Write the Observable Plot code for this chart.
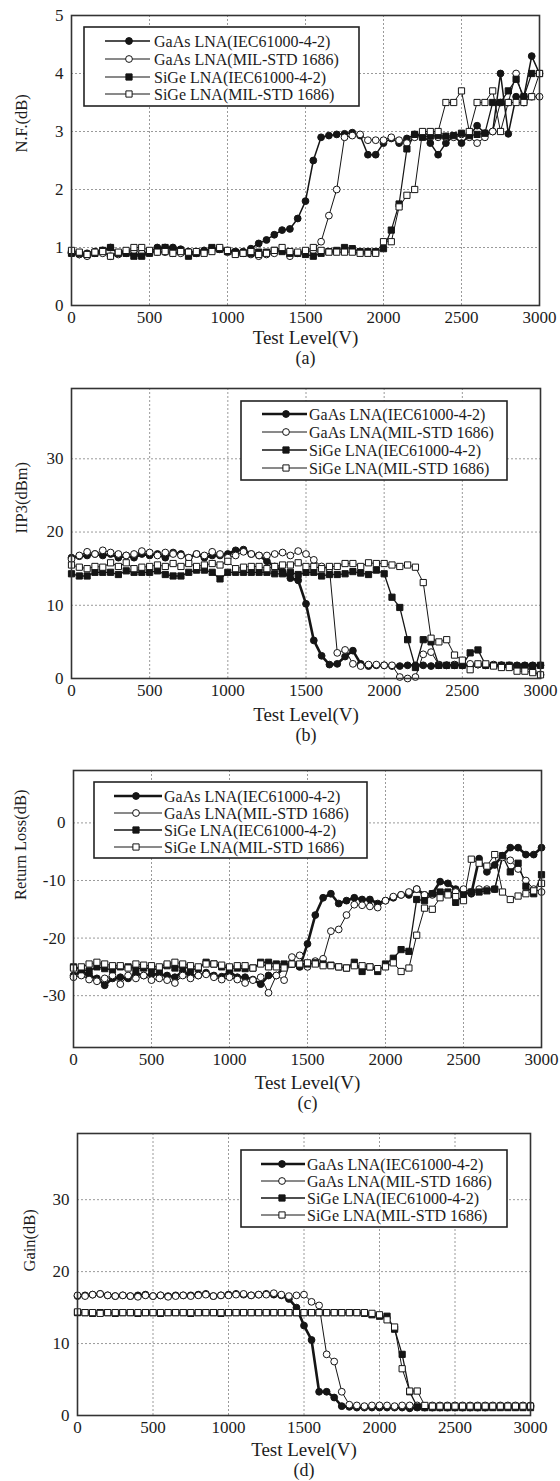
<!DOCTYPE html>
<html><head><meta charset="utf-8">
<script src="https://cdn.jsdelivr.net/npm/d3@7"></script>
<script src="https://cdn.jsdelivr.net/npm/@observablehq/plot@0.6"></script>
<style>
body{margin:0;background:#fff;}
#wrap{width:560px;}
svg{display:block;}
</style></head><body><div id="wrap"></div>
<script>
const testLevel = [0,50,100,150,200,250,300,350,400,450,500,550,600,650,700,750,800,850,900,950,1000,1050,1100,1150,1200,1250,1300,1350,1400,1450,1500,1550,1600,1650,1700,1750,1800,1850,1900,1950,2000,2050,2100,2150,2200,2250,2300,2350,2400,2450,2500,2550,2600,2650,2700,2750,2800,2850,2900,2950,3000];
const seriesNames = ["GaAs LNA(IEC61000-4-2)", "GaAs LNA(MIL-STD 1686)", "SiGe LNA(IEC61000-4-2)", "SiGe LNA(MIL-STD 1686)"];
const xTicks = [0,500,1000,1500,2000,2500,3000];
const xGrid = [500,1000,1500,2000,2500];

// (a) Noise figure
const nfGaAsIEC = [0.92,0.88,0.90,0.93,0.95,1.00,0.90,0.92,0.88,0.87, 0.92,1.00,1.00,1.00,0.97,0.93,0.92,0.95,0.98,0.97, 0.95,0.93,0.93,0.98,1.07,1.13,1.22,1.30,1.32,1.50, 1.80,2.50,2.90,2.93,2.95,2.96,2.98,2.93,2.60,2.60, 2.80,2.88,2.80,2.88,2.95,2.94,2.80,2.60,2.80,2.92, 2.80,2.93,3.10,2.97,3.00,4.00,2.96,3.60,3.60,4.30,4.00];
const nfGaAsMIL = [0.90,0.88,0.85,0.90,0.90,0.85,0.88,0.90,0.95,0.90, 0.93,0.92,0.92,0.90,0.90,0.88,0.90,0.92,0.95,0.97, 0.92,0.90,0.90,0.88,0.85,0.88,0.90,0.95,0.85,0.90, 0.92,0.95,1.10,1.55,2.00,2.90,2.93,2.95,2.85,2.85, 2.85,2.90,2.85,2.80,2.90,2.95,2.95,2.90,2.90,2.90, 2.95,2.90,2.80,2.90,3.00,3.50,3.50,4.00,3.50,3.60,3.60];
const nfSiGeIEC = [0.90,0.90,0.88,0.90,0.95,1.00,0.90,0.90,0.85,0.85, 0.90,0.95,1.00,0.97,0.95,0.85,0.90,0.92,1.00,0.97, 0.93,0.92,0.90,0.90,0.92,0.92,0.95,0.93,0.90,0.90, 0.88,0.85,0.90,0.93,0.95,1.00,0.98,0.93,0.93,0.93, 0.98,1.30,1.75,2.70,2.95,2.90,2.92,2.93,2.92,2.93, 2.97,2.93,2.95,2.97,3.50,3.50,3.70,3.90,3.60,4.00,4.00];
const nfSiGeMIL = [0.95,0.92,0.88,0.92,0.93,0.85,0.92,0.95,1.00,1.00, 0.95,0.92,0.93,0.90,0.93,0.92,0.93,0.90,0.93,1.00, 0.95,0.88,0.90,0.93,0.88,0.90,0.95,1.00,0.93,0.92, 0.95,1.00,0.95,0.92,0.92,0.92,0.92,0.90,0.90,0.90, 1.10,1.10,1.70,1.90,2.00,3.00,3.00,3.00,3.50,3.50, 3.70,3.00,3.50,3.50,3.70,3.00,3.50,3.50,3.50,3.60,4.00];
const nfTicks = [0,1,2,3,4,5];

// (b) IIP3
const ipGaAsIEC = [16.5,16.7,16.8,17.0,16.8,17.0,16.5,16.8,16.5,17.0, 16.8,17.0,16.5,17.2,17.0,16.5,17.0,16.5,16.8,16.8, 17.0,17.5,17.6,17.0,16.8,16.0,15.3,14.6,13.7,13.4, 10.2,5.2,3.1,1.9,2.0,3.0,3.8,2.0,1.7,1.8, 1.8,1.7,1.7,1.8,1.8,1.8,1.7,1.8,1.8,1.8, 1.8,1.8,1.9,1.8,1.8,1.8,1.8,1.8,1.8,1.8,1.8];
const ipGaAsMIL = [16.3,16.8,17.3,17.0,17.5,17.2,17.0,16.8,17.0,17.4, 17.2,16.8,17.2,17.0,16.8,16.5,17.0,16.8,17.3,17.0, 16.5,16.8,17.3,17.0,16.8,16.8,17.0,17.2,16.8,17.4, 17.0,16.2,15.3,15.0,3.5,3.9,2.0,1.7,1.9,1.9, 1.8,1.8,0.2,0.0,0.2,3.3,3.6,1.9,1.8,1.9, 2.0,2.0,1.9,1.8,1.9,1.8,1.7,1.5,1.5,1.0,0.5];
const ipSiGeIEC = [14.3,14.0,14.0,14.5,14.5,14.5,14.2,14.7,14.5,14.5, 14.5,14.7,14.2,14.0,14.0,14.5,14.8,14.8,14.5,13.6, 14.5,14.5,14.5,14.5,14.5,14.5,14.3,14.3,14.5,14.2, 14.5,14.5,14.0,14.2,14.2,14.3,14.6,14.4,14.2,14.8, 14.3,11.1,9.7,5.3,1.5,5.3,5.0,1.8,1.8,1.8, 1.8,3.5,3.9,1.8,1.8,1.8,1.8,1.7,1.7,1.7,1.8];
const ipSiGeMIL = [15.5,15.2,15.0,15.3,15.2,15.8,15.3,15.8,15.0,15.2, 15.3,15.5,15.3,15.7,15.3,15.7,15.3,15.5,15.7,15.5, 16.0,15.0,15.2,15.3,15.3,15.0,15.3,15.5,15.5,15.8, 15.3,15.3,15.0,15.3,15.3,15.7,15.7,15.3,15.8,15.7, 15.7,15.5,15.3,15.5,15.2,13.1,5.5,5.0,5.3,3.2, 2.5,1.2,2.0,2.0,1.7,1.5,1.5,1.0,1.0,0.8,0.5];
const ipTicks = [0,10,20,30];

// (c) Return loss
const rlGaAsIEC = [-26.5,-25.8,-26.5,-27.0,-28.2,-27.0,-26.8,-27.0,-26.2,-26.5, -26.3,-26.3,-26.5,-26.8,-25.8,-26.5,-26.5,-26.0,-26.5,-26.7, -25.8,-26.8,-26.8,-27.2,-28.0,-26.5,-26.5,-25.0,-24.5,-25.0, -21.0,-16.0,-13.0,-12.3,-14.0,-13.5,-13.0,-13.3,-13.3,-14.0, -13.5,-13.0,-12.5,-12.5,-11.5,-12.5,-12.3,-10.2,-10.5,-11.5, -12.0,-12.3,-6.2,-8.5,-7.3,-5.7,-4.3,-4.3,-5.5,-5.5,-4.3];
const rlGaAsMIL = [-26.8,-26.5,-27.2,-27.5,-27.0,-26.5,-28.0,-26.5,-27.0,-26.5, -27.3,-27.0,-27.3,-27.8,-26.5,-27.0,-26.5,-26.3,-26.8,-27.2, -26.8,-27.2,-27.8,-27.3,-26.8,-29.5,-26.5,-27.3,-23.3,-23.0, -25.0,-24.0,-23.6,-18.8,-18.5,-16.0,-14.2,-14.3,-14.5,-14.7, -13.5,-12.8,-12.5,-12.0,-11.5,-12.5,-12.5,-12.5,-12.2,-12.0, -11.5,-12.0,-11.5,-11.5,-11.5,-6.0,-6.5,-8.0,-10.0,-11.5,-12.0];
const rlSiGeIEC = [-25.0,-25.5,-25.7,-25.0,-25.3,-25.5,-25.0,-25.0,-25.3,-25.2, -25.3,-25.5,-24.8,-25.2,-24.8,-25.5,-25.3,-24.2,-24.5,-25.0, -25.2,-25.2,-25.3,-25.2,-24.2,-24.2,-24.5,-24.5,-24.5,-24.8, -24.5,-24.3,-24.5,-24.7,-25.0,-25.2,-24.2,-25.8,-25.0,-25.8, -24.5,-23.5,-22.0,-22.3,-13.3,-13.5,-12.3,-12.0,-12.0,-13.8, -12.5,-12.0,-12.0,-11.8,-11.5,-5.7,-8.5,-7.0,-11.0,-12.3,-9.0];
const rlSiGeMIL = [-25.2,-25.0,-24.5,-24.2,-24.5,-24.8,-24.8,-25.2,-24.5,-24.7, -24.8,-25.0,-24.5,-24.2,-24.5,-24.8,-25.0,-24.5,-24.5,-24.7, -25.0,-24.8,-24.8,-25.2,-24.5,-25.0,-25.0,-25.2,-24.5,-24.5, -24.3,-24.5,-24.8,-24.8,-25.0,-25.2,-24.8,-24.8,-25.0,-25.3, -25.0,-24.3,-25.8,-25.2,-19.5,-14.8,-15.0,-13.0,-12.5,-12.8, -13.5,-6.3,-7.0,-7.5,-5.5,-12.0,-13.3,-12.7,-12.3,-11.8,-10.5];
const rlTicks = [-30,-20,-10,0];

// (d) Gain
const gGaAsIEC = [16.6,16.7,16.8,16.9,16.7,16.6,16.7,16.6,16.7,16.8, 16.6,16.7,16.6,16.7,16.7,16.7,16.8,16.9,16.6,16.7, 16.8,16.9,16.8,16.7,16.8,16.9,16.8,16.7,16.2,15.0, 12.5,10.5,3.3,3.3,2.5,1.3,1.2,1.1,1.1,1.1, 1.1,1.1,1.1,1.1,1.0,1.1,1.1,1.1,1.1,1.1, 1.1,1.1,1.1,1.1,1.1,1.2,1.2,1.2,1.2,1.2,1.2];
const gGaAsMIL = [16.7,16.6,16.8,16.9,16.7,16.6,16.7,16.6,16.5,16.7, 16.6,16.7,16.5,16.6,16.7,16.6,16.7,16.8,16.6,16.7, 16.7,16.8,16.9,16.7,16.8,16.8,17.0,16.8,16.6,16.7, 16.8,15.8,15.3,8.5,7.5,3.3,1.5,1.4,1.3,1.4, 1.4,1.4,1.3,1.4,1.4,1.4,1.3,1.4,1.4,1.4, 1.4,1.4,1.4,1.4,1.4,1.4,1.4,1.4,1.4,1.4,1.4];
const gSiGeIEC = [14.3,14.3,14.2,14.3,14.3,14.2,14.3,14.3,14.2,14.3, 14.3,14.2,14.3,14.3,14.3,14.2,14.3,14.3,14.3,14.2, 14.3,14.3,14.3,14.3,14.3,14.3,14.3,14.3,14.3,14.3, 14.3,14.3,14.3,14.3,14.3,14.3,14.3,14.3,14.2,14.0, 13.8,13.8,12.0,8.5,3.3,1.2,1.1,1.1,1.1,1.1, 1.1,1.1,1.1,1.1,1.1,1.1,1.1,1.1,1.1,1.1,1.1];
const gSiGeMIL = [14.4,14.3,14.3,14.2,14.3,14.3,14.3,14.3,14.3,14.3, 14.3,14.3,14.3,14.3,14.3,14.3,14.3,14.3,14.3,14.3, 14.3,14.3,14.3,14.3,14.3,14.3,14.3,14.3,14.3,14.3, 14.3,14.3,14.3,14.3,14.3,14.3,14.3,14.3,14.3,14.2, 14.0,13.3,12.3,6.5,3.4,3.4,1.4,1.3,1.3,1.3, 1.3,1.3,1.3,1.3,1.3,1.3,1.3,1.3,1.3,1.3,1.3];
const gTicks = [0,10,20,30];

const INK = "#151515";
const styles = [
  {symbol: "circle", fill: INK, stroke: INK},
  {symbol: "circle", fill: "white", stroke: INK},
  {symbol: "square", fill: INK, stroke: INK},
  {symbol: "square", fill: "white", stroke: INK}
];
const FONT = "'Liberation Serif', 'Times New Roman', serif";

function makePanel(cfg) {
  const rows = [];
  cfg.series.forEach((vals, s) => vals.forEach((v, i) => rows.push({x: testLevel[i], y: v, s})));
  const marks = [
    Plot.gridX(xGrid, {stroke: "#9a9a9a", strokeOpacity: 1, strokeDasharray: "2,2"}),
    Plot.gridY(cfg.yGrid, {stroke: "#9a9a9a", strokeOpacity: 1, strokeDasharray: "2,2"}),
  ];
  cfg.series.forEach((vals, s) => {
    const d = rows.filter(r => r.s === s);
    marks.push(Plot.line(d, {x: "x", y: "y", stroke: INK, strokeWidth: cfg.lineWidths[s]}));
  });
  cfg.series.forEach((vals, s) => {
    const d = rows.filter(r => r.s === s);
    const st = styles[s];
    marks.push(Plot.dot(d, {x: "x", y: "y", symbol: st.symbol, fill: st.fill, stroke: st.stroke, strokeWidth: 1, r: st.symbol === "circle" ? 3.4 : 3.5}));
  });
  marks.push(
    Plot.frame({stroke: "#333", strokeWidth: 1.6}),
    Plot.axisX(xTicks, {tickSize: 0, tickPadding: 5, label: null, fontSize: 17, tickFormat: d => String(d)}),
    Plot.axisY(cfg.yTicks, {tickSize: 0, tickPadding: 8, label: null, fontSize: 17, tickFormat: d => String(d)}),
    Plot.text([cfg.yLabel], {text: d => d, frameAnchor: "left", dx: cfg.yLabelDx, dy: cfg.yLabelDy, rotate: -90, fontSize: 16.5}),
    Plot.text(["Test Level(V)"], {text: d => d, frameAnchor: "bottom", dy: cfg.xLabelDy, fontSize: 19}),
    Plot.text([cfg.caption], {text: d => d, frameAnchor: "bottom", dy: cfg.xLabelDy + 20, fontSize: 18})
  );
  const svg = Plot.plot({
    width: 560, height: cfg.height,
    marginTop: cfg.m[0], marginRight: cfg.m[1], marginBottom: cfg.m[2], marginLeft: cfg.m[3],
    x: {domain: [0, 3000], label: null},
    y: {domain: cfg.yDomain, label: null},
    style: {fontFamily: FONT, color: "#1c1c1c", background: "white", overflow: "visible"},
    marks
  });
  // legend box
  const L = cfg.legend;
  const g = d3.select(svg).append("g").attr("font-family", FONT).attr("font-size", 16).attr("text-anchor", "start");
  g.append("rect").attr("x", L.box[0]).attr("y", L.box[1]).attr("width", L.box[2] - L.box[0]).attr("height", L.box[3] - L.box[1])
    .attr("fill", "white").attr("stroke", "#222").attr("stroke-width", 1.6);
  seriesNames.forEach((name, s) => {
    const y = L.rows[s];
    const st = styles[s];
    g.append("line").attr("x1", L.sw[0]).attr("x2", L.sw[1]).attr("y1", y).attr("y2", y).attr("stroke", INK).attr("stroke-width", cfg.lineWidths[s]);
    const r = st.symbol === "circle" ? 3.4 : 3.5;
    const sym = d3.symbol(st.symbol === "circle" ? d3.symbolCircle : d3.symbolSquare, Math.PI * r * r);
    g.append("path").attr("d", sym()).attr("transform", `translate(${L.mk},${y})`).attr("fill", st.fill).attr("stroke", st.stroke);
    g.append("text").attr("x", L.tx).attr("y", y).attr("dy", "0.35em").attr("text-anchor", "start").attr("fill", "#1c1c1c").text(name);
  });
  const div = document.createElement("div");
  div.appendChild(svg);
  document.getElementById("wrap").appendChild(div);
}

makePanel({
  series: [nfGaAsIEC, nfGaAsMIL, nfSiGeIEC, nfSiGeMIL], height: 370, m: [15, 21, 65, 71],
  yDomain: [0, 5], yTicks: nfTicks, yGrid: [1, 2, 3, 4], yLabel: "N.F.(dB)", yLabelDx: -50, yLabelDy: -8, xLabelDy: 38, caption: "(a)",
  lineWidths: [1.5, 1, 1.2, 1],
  legend: {box: [84, 27, 359, 106], rows: [41, 59, 77, 94], sw: [105, 150], mk: 129, tx: 154}
});
makePanel({
  series: [ipGaAsIEC, ipGaAsMIL, ipSiGeIEC, ipSiGeMIL], height: 375, m: [18, 20, 67, 71],
  yDomain: [0, 39.6], yTicks: ipTicks, yGrid: [10, 20, 30], yLabel: "IIP3(dBm)", yLabelDx: -50, yLabelDy: 0, xLabelDy: 42, caption: "(b)",
  lineWidths: [2.6, 1, 1.3, 1],
  legend: {box: [241, 31, 507, 110], rows: [44, 62, 80, 98], sw: [262, 307], mk: 286, tx: 309}
});
makePanel({
  series: [rlGaAsIEC, rlGaAsMIL, rlSiGeIEC, rlSiGeMIL], height: 370, m: [25, 19, 68, 73],
  yDomain: [-39, 9.1], yTicks: rlTicks, yGrid: [-30, -20, -10, 0], yLabel: "Return Loss(dB)", yLabelDx: -53, yLabelDy: -9, xLabelDy: 41, caption: "(c)",
  lineWidths: [2.6, 1, 1.3, 1],
  legend: {box: [94, 37, 367, 113], rows: [51, 68, 85, 102], sw: [114, 162], mk: 136, tx: 164}
});
makePanel({
  series: [gGaAsIEC, gGaAsMIL, gSiGeIEC, gSiGeMIL], height: 366, m: [18, 30, 66, 77],
  yDomain: [0, 39.2], yTicks: gTicks, yGrid: [10, 20, 30], yLabel: "Gain(dB)", yLabelDx: -48, yLabelDy: -3, xLabelDy: 40, caption: "(d)",
  lineWidths: [2.6, 1, 1.3, 1],
  legend: {box: [241, 35, 507, 112], rows: [49, 66, 83, 100], sw: [261, 305], mk: 282, tx: 307}
});
</script></body></html>
